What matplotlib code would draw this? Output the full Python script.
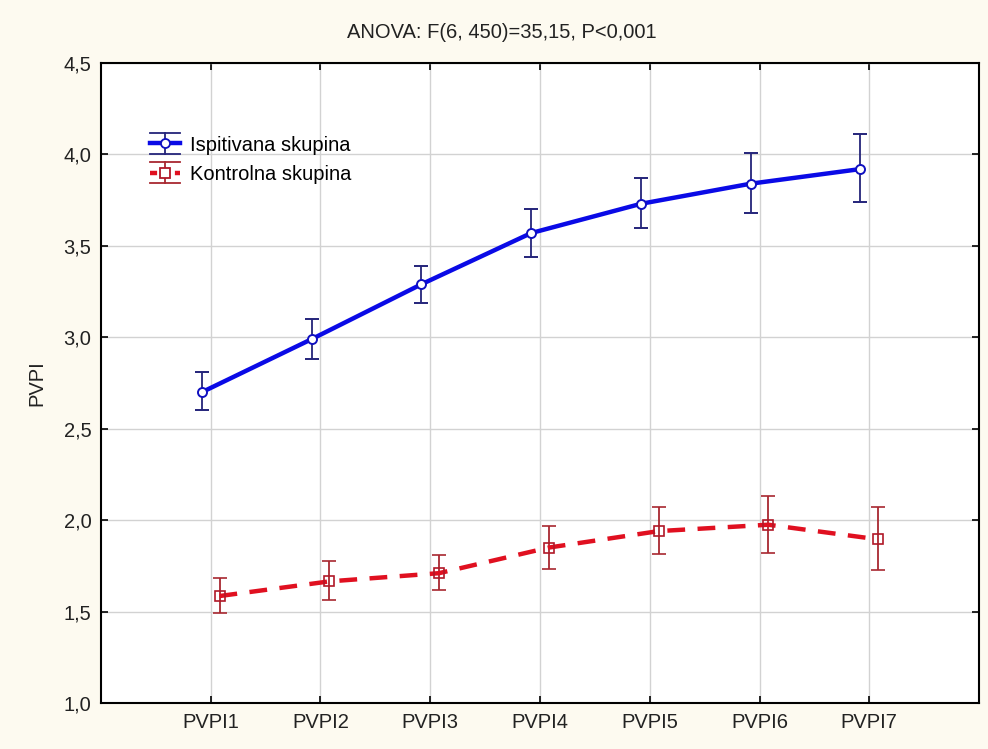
import numpy as np
import matplotlib.pyplot as plt
from matplotlib.ticker import FuncFormatter
from matplotlib.legend_handler import HandlerBase
from matplotlib.lines import Line2D

plt.rcParams['font.family'] = ['Liberation Sans', 'DejaVu Sans']

labels = ['PVPI1', 'PVPI2', 'PVPI3', 'PVPI4', 'PVPI5', 'PVPI6', 'PVPI7']
isp_mean = [2.70, 2.99, 3.29, 3.57, 3.73, 3.84, 3.92]
isp_low = [2.60, 2.88, 3.19, 3.44, 3.60, 3.68, 3.74]
isp_high = [2.81, 3.10, 3.39, 3.70, 3.87, 4.01, 4.11]
kon_mean = [1.585, 1.665, 1.71, 1.85, 1.94, 1.975, 1.895]
kon_low = [1.49, 1.565, 1.62, 1.735, 1.815, 1.82, 1.725]
kon_high = [1.685, 1.775, 1.81, 1.97, 2.07, 2.13, 2.07]

x = np.arange(1, len(labels) + 1)
off = 0.08
fs = 14.5


# legend glyph: line + marker with whiskers as wide as the handle
class ErrHandler(HandlerBase):
    def __init__(self, color, ecolor, marker, mec, ls):
        super().__init__()
        self.c, self.ec, self.m, self.mec, self.ls = color, ecolor, marker, mec, ls

    def create_artists(self, legend, orig, xd, yd, w, h, fontsize, trans):
        cy = h / 2 - yd
        cx = w / 2 - xd
        d = 0.72 * h
        arts = [
            Line2D([-xd, w - xd], [cy + d, cy + d], color=self.ec, lw=1.3),
            Line2D([-xd, w - xd], [cy - d, cy - d], color=self.ec, lw=1.3),
            Line2D([cx, cx], [cy - d, cy + d], color=self.ec, lw=1.3),
            Line2D([-xd, w - xd], [cy, cy], color=self.c, lw=3.2, ls=self.ls),
            Line2D([cx], [cy], marker=self.m, ms=6.5, mfc='white',
                   mec=self.mec, mew=1.3, ls='none'),
        ]
        for a in arts:
            a.set_transform(trans)
        return arts


bg = '#fdfaf0'
fig = plt.figure(figsize=(9.88, 7.49), dpi=100, facecolor=bg)
ax = fig.add_axes([0.1022, 0.0614, 0.8887, 0.8545])
ax.set_facecolor('white')

isp_m = np.array(isp_mean)
kon_m = np.array(kon_mean)
yerr_i = [isp_m - np.array(isp_low), np.array(isp_high) - isp_m]
yerr_k = [kon_m - np.array(kon_low), np.array(kon_high) - kon_m]

h1 = ax.errorbar(x - off, isp_m, yerr=yerr_i, color='#0a0ae6', lw=3.2,
                 marker='o', ms=6.5, mfc='white', mec='#1010c0', mew=1.4,
                 ecolor='#24247a', elinewidth=1.3, capsize=5, capthick=1.3,
                 label='Ispitivana skupina', zorder=3)
h2 = ax.errorbar(x + off, kon_m, yerr=yerr_k, color='#e01020', lw=3.2,
                 ls=(0, (4, 2.8)), marker='s', ms=7, mfc='none',
                 mec='#b01828', mew=1.2, ecolor='#a82830', elinewidth=1.3,
                 capsize=5, capthick=1.3, label='Kontrolna skupina', zorder=3)

ax.set_xlim(0, 8)
ax.set_ylim(1.0, 4.5)
ax.set_xticks(x)
ax.set_xticklabels(labels)
ax.set_yticks(np.arange(1.0, 4.51, 0.5))
ax.yaxis.set_major_formatter(FuncFormatter(lambda v, p: f'{v:.1f}'.replace('.', ',')))
ax.grid(True, color='#d2d2d2', lw=1)
ax.set_axisbelow(True)
ax.tick_params(direction='in', length=5, width=1.2, top=True, right=True,
               labelsize=fs, pad=7, colors='black', labelcolor='#222222')
for s in ax.spines.values():
    s.set_linewidth(1.5)
    s.set_color('black')

ax.set_ylabel('PVPI', fontsize=fs, color='#222222', labelpad=12)
fig.text(0.508, 1 - 32 / 749, 'ANOVA: F(6, 450)=35,15, P<0,001', fontsize=fs,
         color='#222222', ha='center', va='center')

ax.legend(handles=[h1, h2], loc='upper left', bbox_to_anchor=(0.035, 0.915),
          frameon=False, fontsize=fs, handlelength=1.5, handletextpad=0.5,
          labelspacing=0.5,
          handler_map={h1: ErrHandler('#0a0ae6', '#24247a', 'o', '#1010c0', '-'),
                       h2: ErrHandler('#e01020', '#a82830', 's', '#b01828',
                                      (0, (1.6, 1.2)))})

fig.savefig('out.png', dpi=100, facecolor=bg)
